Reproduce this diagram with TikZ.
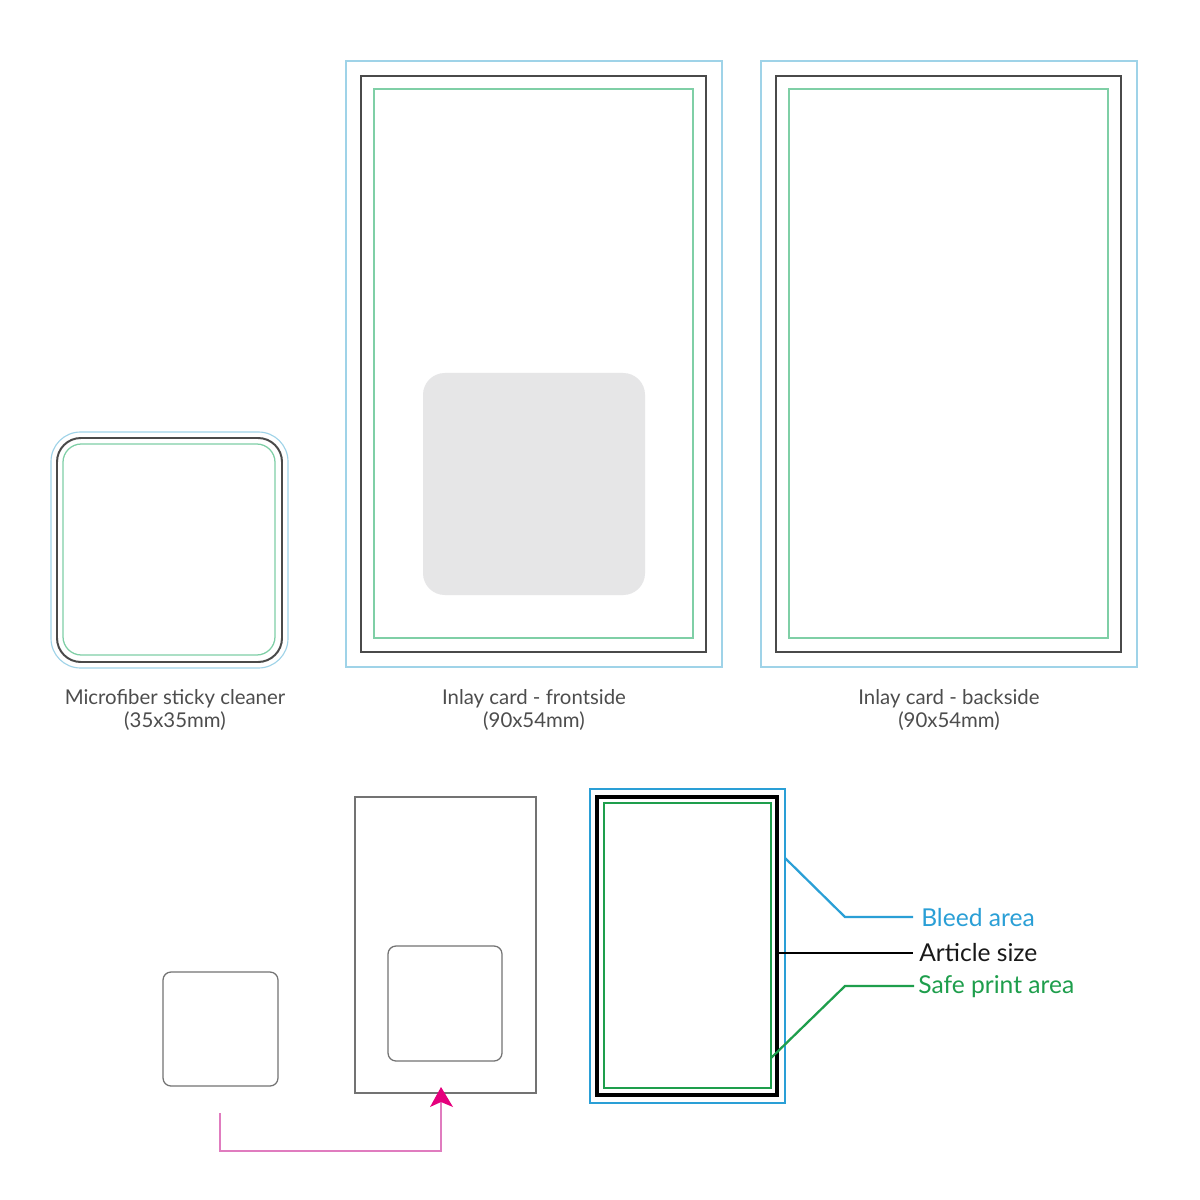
\documentclass[tikz,border=0pt]{standalone}
\usepackage{fontspec}
\setmainfont{Lato}
\usetikzlibrary{arrows.meta}
\definecolor{lblue}{HTML}{9FD3E8}
\definecolor{lgreen}{HTML}{7FCFA6}
\definecolor{dgrey}{HTML}{4A4A4A}
\definecolor{fillgrey}{HTML}{E6E6E7}
\definecolor{bblue}{HTML}{2A9FD6}
\definecolor{bgreen}{HTML}{1E9E4C}
\definecolor{pinkline}{HTML}{E07CBF}
\definecolor{magenta}{HTML}{E5007D}
\definecolor{txtgrey}{HTML}{4D4D4D}
\tikzset{
  bleedline/.style={draw=lblue, line width=0.8pt},
  artline/.style={draw=dgrey, line width=1.4pt},
  safeline/.style={draw=lgreen, line width=0.9pt},
  caption/.style={font=\fontsize{14.5}{16.3}\selectfont, text=txtgrey, align=center, inner sep=0pt},
  outline/.style={draw=black!55, line width=0.9pt},
  legbleed/.style={draw=bblue, line width=1.8pt},
  legart/.style={draw=black, line width=2.2pt},
  legsafe/.style={draw=bgreen, line width=1.8pt},
  legtext/.style={font=\fontsize{17.5}{20}\selectfont, anchor=west, inner sep=0pt},
}
\begin{document}
\begin{tikzpicture}[x=0.025cm, y=-0.025cm]
\useasboundingbox[fill=white] (0,0) rectangle (1200,1200);

% ---- Microfiber sticky cleaner
\draw[bleedline, rounded corners=21pt] (51,432) rectangle (288,668);
\draw[artline, rounded corners=17pt] (57,438) rectangle (282,662);
\draw[safeline, rounded corners=13pt] (63,444) rectangle (275,655);
\node[caption] (capA) at (175,710) {Microfiber sticky cleaner\\(35x35mm)};

% ---- Inlay card frontside
\draw[bleedline] (346,61) rectangle (722,667);
\draw[artline] (361,76) rectangle (706,652);
\draw[safeline] (374,89) rectangle (693,638);
\fill[fillgrey, rounded corners=15.5pt] (423,373) rectangle (645,595);
\node[caption] (capB) at (534,710) {Inlay card - frontside\\(90x54mm)};

% ---- Inlay card backside
\draw[bleedline] (761,61) rectangle (1137,667);
\draw[artline] (776,76) rectangle (1121,652);
\draw[safeline] (789,89) rectangle (1108,638);
\node[caption] (capC) at (949,710) {Inlay card - backside\\(90x54mm)};

% ---- bottom: placement sketch
\draw[outline, rounded corners=5.7pt] (163,972) rectangle (278,1086);
\draw[outline, line width=0.8pt] (355,797) rectangle (536,1093);
\draw[outline, rounded corners=5.7pt] (388,946) rectangle (502,1061);
\coordinate (arrS) at (220,1113);
\coordinate (arrE) at (441,1087);
\draw[pinkline, line width=1.1pt] (arrS) |- (441,1151) -- (441,1102);
\fill[magenta] (arrE) -- (453,1107) -- (441,1102) -- (430,1107) -- cycle;

% ---- legend rectangle
\draw[legbleed] (590,789) rectangle (785,1103);
\draw[legart] (597,797) rectangle (777,1095);
\draw[legsafe] (604,803) rectangle (771,1088);

\node[legtext, text=bblue] (tBleed) at (921,918) {Bleed area};
\node[legtext, text=black!90] (tArt) at (919,953) {Article size};
\node[legtext, text=bgreen] (tSafe) at (918,987) {Safe print area};

\coordinate (pBleed) at (785,858);
\coordinate (pArt) at (777,953);
\coordinate (pSafe) at (771,1058);
\draw[bblue, line width=1.6pt] (pBleed) -- (845,917) -- (913,917);
\draw[black, line width=1.6pt] (pArt) -- (913,953);
\draw[bgreen, line width=1.6pt] (pSafe) -- (845,986) -- (914,986);
\end{tikzpicture}
\end{document}
